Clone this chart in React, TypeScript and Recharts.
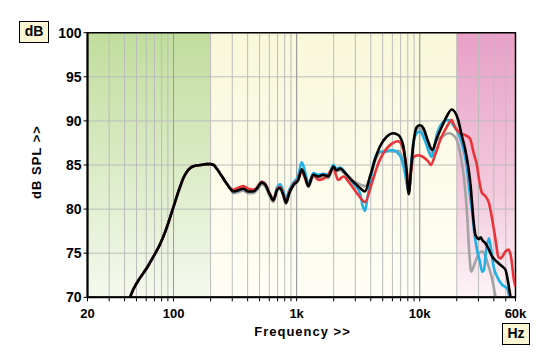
import React from 'react';
import { LineChart, Line, XAxis, YAxis, CartesianGrid, ReferenceArea, ReferenceLine } from 'recharts';

const FONT = '"Liberation Sans", Arial, Helvetica, sans-serif';

// X axis ticks (log grid) and labels
const xTicks = [20, 30, 40, 50, 60, 70, 80, 90, 100, 200, 300, 400, 500, 600, 700, 800, 900, 1000, 2000, 3000, 4000, 5000, 6000, 7000, 8000, 9000, 10000, 20000, 30000, 40000, 50000, 60000];
const xLabelFreqs = [20, 100, 1000, 10000, 60000];
const xLabelTexts = ['20', '100', '1k', '10k', '60k'];
const majorGrid = [100, 1000, 10000];
const yTicks = [70, 75, 80, 85, 90, 95, 100];
const bandEdges = [20, 200, 20000, 60000];

// shared low-frequency part [Hz, dB]
const lowCurve: [number, number][] = [
  [44.3, 70.0], [47.5, 71.0], [53.4, 72.2], [60.5, 73.3], [68.5, 74.6], [77.6, 76.0], [86, 77.5], [93.5, 79.0],
  [102.8, 80.8], [112.8, 82.5], [120, 83.5], [128, 84.2], [138, 84.7], [149, 84.9], [165, 85.0], [185, 85.1],
  [200, 85.1], [212, 85.0], [224, 84.6], [245, 83.8], [270, 82.9], [290, 82.3],
];

const grayCurve: [number, number][] = [
  [306, 81.8], [346, 82.0], [369, 82.1], [405, 81.8], [445, 81.8], [473, 82.1], [520, 82.8], [553, 82.6], [608, 81.4], [646, 80.8],
  [696, 82.1], [733, 82.3], [780, 81.5], [819, 80.6], [871, 81.7], [939, 82.6], [1031, 83.3], [1099, 84.3], [1169, 83.5], [1245, 82.5],
  [1365, 83.7], [1499, 83.5], [1645, 83.6], [1808, 83.5], [1985, 84.6], [2113, 84.3], [2249, 84.4], [2551, 83.8], [2887, 83.2], [3271, 82.8],
  [3591, 82.6], [3945, 83.5], [4329, 85.4], [4752, 86.4], [5384, 86.6], [6097, 86.5], [6693, 86.6], [7150, 86.0], [7600, 84.5], [8150, 81.8],
  [8500, 84.6], [8870, 87.4], [9445, 89.0], [10050, 89.2], [11000, 88.2], [12400, 86.3], [13740, 87.8], [15080, 88.2], [17300, 88.6], [19330, 88.2],
  [20570, 87.3], [21900, 85.4], [22900, 83.5], [23630, 81.5], [24370, 79.0], [25140, 75.5], [25930, 73.2], [26300, 72.9], [27590, 73.6], [29360, 74.6],
  [30290, 75.0], [32230, 75.2], [34300, 74.6], [35390, 74.0], [38850, 72.0], [41340, 70.0],
];

const cyanCurve: [number, number][] = [
  [306, 82.0], [346, 82.2], [369, 82.3], [405, 82.0], [445, 82.1], [473, 82.3], [520, 83.1], [553, 82.9], [608, 81.7], [646, 81.1],
  [696, 82.5], [733, 82.8], [780, 82.0], [819, 81.2], [871, 82.2], [939, 83.0], [1031, 83.8], [1099, 85.3], [1169, 84.3], [1245, 82.9],
  [1365, 84.1], [1499, 83.9], [1645, 84.0], [1808, 83.9], [1985, 85.0], [2113, 84.6], [2249, 84.7], [2551, 83.9], [2887, 82.9], [3271, 81.8],
  [3450, 80.3], [3591, 79.8], [3760, 81.3], [3945, 82.9], [4329, 85.8], [4615, 86.5], [5220, 86.5], [5940, 86.7], [6480, 86.5], [7150, 85.6],
  [7600, 84.0], [7880, 82.8], [8150, 82.1], [8500, 85.0], [8870, 87.5], [9445, 88.6], [10050, 88.8], [11000, 87.8], [12500, 85.9], [13740, 88.4],
  [15080, 89.7], [17100, 90.1], [18750, 89.5], [20570, 88.6], [22600, 86.9], [24000, 85.0], [25600, 81.6], [26750, 79.5], [27590, 77.6], [28460, 76.3],
  [29360, 75.2], [30700, 74.2], [32230, 72.9], [33250, 73.1], [34700, 75.4], [36500, 76.7], [38000, 75.4], [39800, 73.5], [42650, 72.3], [46810, 71.4],
  [51380, 71.0], [53500, 70.0],
];

const redCurve: [number, number][] = [
  [306, 82.2], [346, 82.5], [369, 82.6], [405, 82.3], [445, 82.2], [473, 82.4], [520, 83.1], [553, 82.9], [608, 81.7], [646, 81.0],
  [696, 82.3], [733, 82.5], [780, 81.7], [819, 80.8], [871, 81.9], [939, 82.8], [1031, 83.4], [1099, 84.3], [1170, 83.5], [1243, 82.7],
  [1365, 83.9], [1499, 83.3], [1750, 83.7], [1985, 84.6], [2180, 83.3], [2400, 83.7], [2710, 82.9], [3170, 81.6], [3591, 80.8], [4075, 82.9],
  [4615, 85.2], [5000, 86.2], [5900, 87.4], [6700, 87.7], [7300, 86.9], [7900, 84.0], [8150, 81.8], [8500, 84.2], [8870, 85.9], [9760, 86.1],
  [10700, 85.9], [11750, 85.4], [12300, 85.0], [13300, 86.1], [14650, 87.8], [16560, 89.3], [18180, 90.1], [19330, 89.3], [21300, 88.6], [23310, 88.4],
  [25600, 88.0], [27500, 86.3], [29140, 85.0], [30560, 83.1], [31900, 81.9], [34000, 81.5], [36500, 80.7], [38850, 78.8], [41340, 76.5], [43450, 74.6],
  [45000, 74.4], [46810, 74.6], [49810, 75.2], [53010, 75.4], [55720, 74.2], [58200, 72.0], [60000, 71.2],
];

const blackCurve: [number, number][] = [
  [306, 82.0], [346, 82.2], [369, 82.3], [405, 82.0], [445, 82.0], [473, 82.3], [520, 83.0], [553, 82.8], [608, 81.6], [646, 81.0],
  [696, 82.2], [733, 82.4], [780, 81.6], [819, 80.7], [871, 81.8], [939, 82.7], [1031, 83.3], [1099, 84.5], [1169, 83.7], [1245, 82.6],
  [1365, 83.9], [1499, 83.7], [1645, 83.9], [1808, 83.7], [1985, 84.8], [2113, 84.4], [2249, 84.6], [2551, 83.9], [2887, 83.1], [3271, 82.4],
  [3591, 82.0], [3945, 83.7], [4329, 85.6], [4752, 87.1], [5384, 88.2], [6097, 88.6], [6693, 88.4], [7350, 87.2], [7834, 84.2], [8150, 81.7],
  [8500, 84.5], [8870, 87.3], [9445, 89.3], [10050, 89.5], [10700, 89.2], [11750, 87.6], [12660, 86.7], [13740, 88.0], [15080, 89.3], [16560, 90.5],
  [18180, 91.3], [19330, 91.0], [20570, 90.1], [21910, 88.4], [23310, 86.9], [24800, 84.8], [25930, 82.6], [26750, 80.3], [27590, 78.2], [28460, 77.0],
  [30290, 76.6], [31250, 76.8], [32230, 76.5], [34300, 76.1], [36500, 75.4], [38850, 74.6], [42650, 74.0], [46810, 73.5], [49810, 73.1], [51380, 72.3],
  [53010, 71.2], [54690, 70.0],
];

const toData = (hi: [number, number][]) => [...lowCurve, ...hi].map(([f, db]) => ({ f, db }));

const series = [
  { name: 'gray', data: toData(grayCurve), color: '#a3a3a3' },
  { name: 'cyan', data: toData(cyanCurve), color: '#1fb1e6' },
  { name: 'red', data: toData(redCurve), color: '#ea3338' },
  { name: 'black', data: toData(blackCurve), color: '#000000' },
];

const fmtX = (v: number) => {
  const i = xLabelFreqs.indexOf(v);
  return i >= 0 ? xLabelTexts[i] : '';
};

const bandFills = ['url(#bandGreen)', 'url(#bandYellow)', 'url(#bandPink)'];

const boxStyle: React.CSSProperties = {
  position: 'absolute',
  boxSizing: 'border-box',
  border: '1.5px solid #000',
  background: '#faf6d3',
  fontFamily: FONT,
  fontWeight: 'bold',
  fontSize: 14,
  textAlign: 'center',
  color: '#000',
};

export default function App() {
  return (
    <div style={{ position: 'absolute', left: 0, top: 0, width: 554, height: 360, background: '#fff', fontFamily: FONT }}>
      <LineChart width={554} height={360} margin={{ top: 32.7, right: 38.5, bottom: 0, left: 0 }}>
        <defs>
          <linearGradient id="bandGreen" x1="0" y1="0" x2="0" y2="1">
            <stop offset="0%" stopColor="#c0dd9c" />
            <stop offset="100%" stopColor="#f5f9ee" />
          </linearGradient>
          <linearGradient id="bandYellow" x1="0" y1="0" x2="0" y2="1">
            <stop offset="0%" stopColor="#f9f8da" />
            <stop offset="100%" stopColor="#fefef7" />
          </linearGradient>
          <linearGradient id="bandPink" x1="0" y1="0" x2="0" y2="1">
            <stop offset="0%" stopColor="#e8a0c7" />
            <stop offset="60%" stopColor="#f3cadd" />
            <stop offset="100%" stopColor="#fdf3f7" />
          </linearGradient>
        </defs>
        {bandFills.map((fill, i) => (
          <ReferenceArea
            key={i}
            x1={bandEdges[i]}
            x2={bandEdges[i + 1]}
            y1={70}
            y2={100}
            fill={fill}
            fillOpacity={1}
            stroke="none"
            zIndex={-200}
          />
        ))}
        <CartesianGrid stroke="#bcbcbc" strokeWidth={1} />
        {majorGrid.map((x) => (
          <ReferenceLine key={x} x={x} stroke="#9a9a9a" strokeWidth={1} zIndex={-90} />
        ))}
        <XAxis
          dataKey="f"
          type="number"
          scale="log"
          domain={[20, 60000]}
          allowDataOverflow
          ticks={xTicks}
          interval={0}
          tickFormatter={fmtX}
          height={62.7}
          tickSize={4}
          tickMargin={7}
          tick={{ fill: '#000', fontSize: 13, fontWeight: 'bold', fontFamily: FONT }}
          axisLine={{ stroke: '#000', strokeWidth: 2 }}
          tickLine={{ stroke: '#000' }}
        />
        <YAxis
          type="number"
          domain={[70, 100]}
          ticks={yTicks}
          interval={0}
          width={87.5}
          tickSize={4}
          tickMargin={2}
          tick={{ fill: '#000', fontSize: 14, fontWeight: 'bold', fontFamily: FONT }}
          axisLine={{ stroke: '#000', strokeWidth: 2 }}
          tickLine={{ stroke: '#000' }}
        />
        <ReferenceArea x1={20} x2={60000} y1={70} y2={100} fill="none" stroke="#000" strokeWidth={1.5} />
        {series.map((s) => (
          <Line
            key={s.name}
            data={s.data}
            dataKey="db"
            type="monotone"
            stroke={s.color}
            strokeWidth={2.6}
            dot={false}
            activeDot={false}
            isAnimationActive={false}
          />
        ))}
      </LineChart>
      <div style={{ ...boxStyle, left: 19, top: 21, width: 30, height: 22, lineHeight: '19px' }}>dB</div>
      <div style={{ ...boxStyle, left: 502, top: 323, width: 28, height: 22, lineHeight: '19px' }}>Hz</div>
      <div
        style={{
          position: 'absolute',
          left: 35.5,
          top: 162,
          transform: 'translate(-50%, -50%) rotate(-90deg)',
          whiteSpace: 'nowrap',
          fontFamily: FONT,
          fontWeight: 'bold',
          fontSize: 13,
          letterSpacing: 1,
          color: '#000',
        }}
      >
        dB SPL &gt;&gt;
      </div>
      <div
        style={{
          position: 'absolute',
          left: 302.5,
          top: 331,
          transform: 'translate(-50%, -50%)',
          whiteSpace: 'nowrap',
          fontFamily: FONT,
          fontWeight: 'bold',
          fontSize: 13,
          letterSpacing: 1,
          color: '#000',
        }}
      >
        Frequency &gt;&gt;
      </div>
    </div>
  );
}
